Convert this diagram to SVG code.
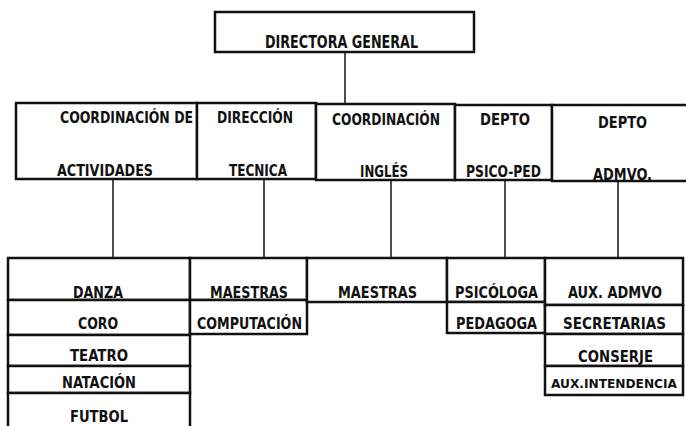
<svg xmlns="http://www.w3.org/2000/svg" width="686" height="426" viewBox="0 0 686 426">
<style>
.b{fill:#fff;stroke:#111;stroke-width:2.5}
.c{stroke:#222;stroke-width:1.6;fill:none}
text{font-family:"DejaVu Sans Condensed","DejaVu Sans","Liberation Sans",sans-serif;font-weight:bold;fill:#111;text-anchor:middle}
.t1{font-size:18px}
.t2{font-size:16px}
.t3{font-size:15px}
.t4{font-size:13px}
</style>
<rect width="686" height="426" fill="#fff"/>
<g id="connectors">
<line class="c" x1="345" y1="52" x2="345" y2="103"/>
<line class="c" x1="113" y1="179" x2="113" y2="258"/>
<line class="c" x1="264" y1="179" x2="264" y2="258"/>
<line class="c" x1="391" y1="180" x2="391" y2="258"/>
<line class="c" x1="505" y1="180" x2="505" y2="258"/>
<line class="c" x1="618" y1="180" x2="618" y2="258"/>
</g>
<g id="directora">
<rect class="b" x="215" y="12" width="259" height="40"/>
<text class="t1" x="341.5" y="48" textLength="153" lengthAdjust="spacingAndGlyphs">DIRECTORA GENERAL</text>
</g>
<g id="coord-actividades">
<rect class="b" x="16" y="103" width="181" height="76"/>
<text class="t2" x="126.5" y="123" textLength="133" lengthAdjust="spacingAndGlyphs">COORDINACIÓN DE</text>
<text class="t2" x="105" y="176" textLength="96" lengthAdjust="spacingAndGlyphs">ACTIVIDADES</text>
</g>
<g id="direccion-tecnica">
<rect class="b" x="197" y="103" width="119" height="76"/>
<text class="t2" x="255" y="123" textLength="76" lengthAdjust="spacingAndGlyphs">DIRECCIÓN</text>
<text class="t2" x="258" y="176" textLength="58" lengthAdjust="spacingAndGlyphs">TECNICA</text>
</g>
<g id="coord-ingles">
<rect class="b" x="316" y="104" width="139" height="76"/>
<text class="t2" x="386" y="125" textLength="108" lengthAdjust="spacingAndGlyphs">COORDINACIÓN</text>
<text class="t2" x="384" y="177" textLength="48" lengthAdjust="spacingAndGlyphs">INGLÉS</text>
</g>
<g id="depto-psicoped">
<rect class="b" x="455" y="105" width="97" height="75"/>
<text class="t2" x="505" y="125" textLength="50" lengthAdjust="spacingAndGlyphs">DEPTO</text>
<text class="t2" x="503.5" y="177" textLength="75" lengthAdjust="spacingAndGlyphs">PSICO-PED</text>
</g>
<g id="depto-admvo">
<rect class="b" x="552" y="105" width="140" height="76"/>
<text class="t2" x="622.5" y="128" textLength="49" lengthAdjust="spacingAndGlyphs">DEPTO</text>
<text class="t2" x="622.5" y="180" textLength="59" lengthAdjust="spacingAndGlyphs">ADMVO.</text>
</g>
<g id="danza">
<rect class="b" x="8" y="258" width="182" height="42"/>
<text class="t3" x="98" y="297.5" textLength="50" lengthAdjust="spacingAndGlyphs">DANZA</text>
</g>
<g id="coro">
<rect class="b" x="8" y="300" width="182" height="35"/>
<text class="t3" x="98" y="328.5" textLength="40" lengthAdjust="spacingAndGlyphs">CORO</text>
</g>
<g id="teatro">
<rect class="b" x="8" y="335" width="182" height="31"/>
<text class="t3" x="99" y="360.5" textLength="58" lengthAdjust="spacingAndGlyphs">TEATRO</text>
</g>
<g id="natacion">
<rect class="b" x="8" y="366" width="182" height="27"/>
<text class="t3" x="99" y="387.5" textLength="74" lengthAdjust="spacingAndGlyphs">NATACIÓN</text>
</g>
<g id="futbol">
<rect class="b" x="8" y="393" width="182" height="40"/>
<text class="t3" x="99" y="421.5" textLength="58" lengthAdjust="spacingAndGlyphs">FUTBOL</text>
</g>
<g id="maestras-comp">
<rect class="b" x="190" y="258" width="117" height="42"/>
<text class="t3" x="249" y="297.5" textLength="78" lengthAdjust="spacingAndGlyphs">MAESTRAS</text>
</g>
<g id="computacion">
<rect class="b" x="190" y="300" width="117" height="34"/>
<text class="t3" x="249.5" y="328.5" textLength="105" lengthAdjust="spacingAndGlyphs">COMPUTACIÓN</text>
</g>
<g id="maestras-ingles">
<rect class="b" x="307" y="258" width="140" height="44"/>
<text class="t3" x="377.5" y="297.5" textLength="79" lengthAdjust="spacingAndGlyphs">MAESTRAS</text>
</g>
<g id="psicologa">
<rect class="b" x="447" y="258" width="98" height="44"/>
<text class="t3" x="496.5" y="297.5" textLength="83" lengthAdjust="spacingAndGlyphs">PSICÓLOGA</text>
</g>
<g id="pedagoga">
<rect class="b" x="447" y="302" width="98" height="31"/>
<text class="t3" x="496.5" y="328.5" textLength="81" lengthAdjust="spacingAndGlyphs">PEDAGOGA</text>
</g>
<g id="aux-admvo">
<rect class="b" x="545" y="258" width="138" height="47"/>
<text class="t3" x="615" y="297.5" textLength="94" lengthAdjust="spacingAndGlyphs">AUX. ADMVO</text>
</g>
<g id="secretarias">
<rect class="b" x="545" y="305" width="138" height="29"/>
<text class="t3" x="614.5" y="328.5" textLength="103" lengthAdjust="spacingAndGlyphs">SECRETARIAS</text>
</g>
<g id="conserje">
<rect class="b" x="545" y="334" width="138" height="32"/>
<text class="t3" x="615.5" y="361.5" textLength="75" lengthAdjust="spacingAndGlyphs">CONSERJE</text>
</g>
<g id="aux-intendencia">
<rect class="b" x="545" y="366" width="138" height="29"/>
<text class="t4" x="614" y="388" textLength="126" lengthAdjust="spacingAndGlyphs">AUX.INTENDENCIA</text>
</g>
</svg>
